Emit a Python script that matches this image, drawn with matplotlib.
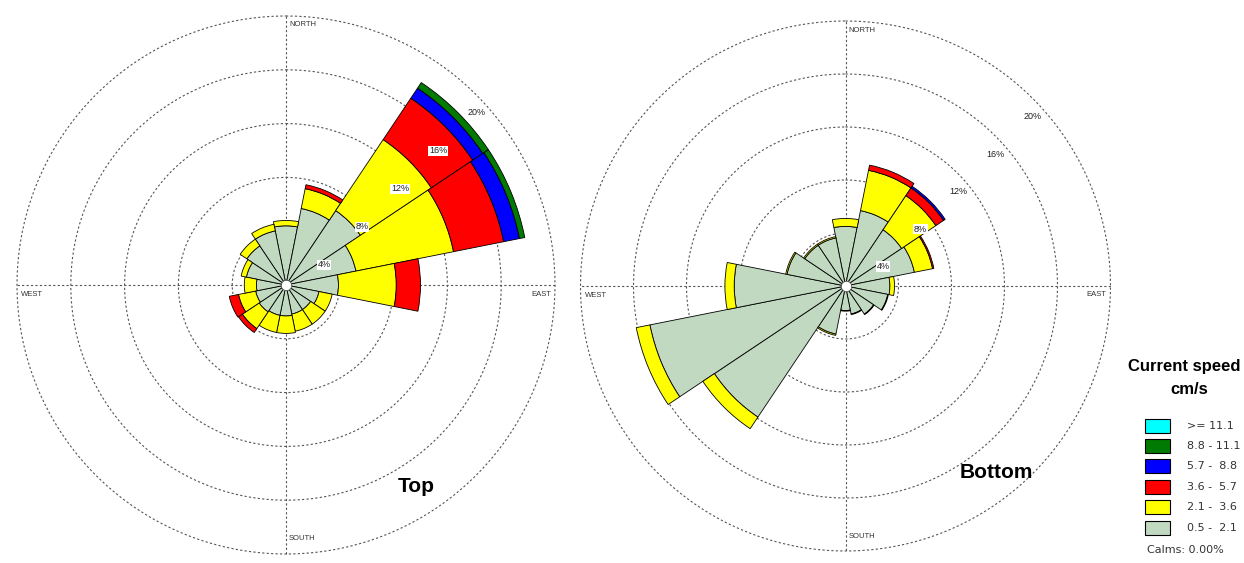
import numpy as np
import matplotlib
matplotlib.use('Agg')
import matplotlib.pyplot as plt
from matplotlib.patches import Rectangle

plt.rcParams['font.family'] = ['Liberation Sans', 'DejaVu Sans']

# 16 compass sectors, N first, clockwise
directions = ['N', 'NNE', 'NE', 'ENE', 'E', 'ESE', 'SE', 'SSE',
              'S', 'SSW', 'SW', 'WSW', 'W', 'WNW', 'NW', 'NNW']

speed_classes = ['0.5 -  2.1', '2.1 -  3.6', '3.6 -  5.7', '5.7 -  8.8', '8.8 - 11.1', '>= 11.1']
class_colors = ['#c0d9c0', '#ffff00', '#ff0000', '#0000ff', '#007a00', '#00ffff']

# percent of records per sector and speed class - top layer
top_05_21 = [4.4, 5.8, 6.65, 5.3, 3.9, 2.5, 2.2, 2.2, 2.3, 2.3, 2.4, 2.3, 2.2, 3.0, 3.5, 4.1]
top_21_36 = [0.4, 1.5, 6.35, 7.4, 4.3, 1.0, 1.3, 1.3, 1.3, 1.3, 1.5, 1.3, 0.9, 0.4, 0.6, 0.5]
top_36_57 = [0.0, 0.3, 3.7, 3.8, 1.8, 0.0, 0.0, 0.0, 0.0, 0.0, 0.35, 0.7, 0.0, 0.0, 0.0, 0.0]
top_57_88 = [0.0, 0.0, 0.9, 1.2, 0.0, 0.0, 0.0, 0.0, 0.0, 0.0, 0.0, 0.0, 0.0, 0.0, 0.0, 0.0]
top_88_111 = [0.0, 0.0, 0.5, 0.4, 0.0, 0.0, 0.0, 0.0, 0.0, 0.0, 0.0, 0.0, 0.0, 0.0, 0.0, 0.0]
top_111 = [0.0] * 16

# bottom layer
bot_05_21 = [4.5, 5.8, 5.1, 5.3, 3.35, 3.25, 2.55, 2.15, 1.85, 3.7, 11.9, 15.05, 8.4, 4.5, 3.7, 3.7]
bot_21_36 = [0.6, 3.1, 3.1, 1.4, 0.35, 0.05, 0.05, 0.05, 0.05, 0.1, 1.05, 1.05, 0.7, 0.1, 0.1, 0.1]
bot_36_57 = [0.0, 0.4, 0.7, 0.1, 0.0, 0.0, 0.0, 0.0, 0.0, 0.0, 0.0, 0.0, 0.0, 0.0, 0.0, 0.0]
bot_57_88 = [0.0, 0.0, 0.15, 0.0, 0.0, 0.0, 0.0, 0.0, 0.0, 0.0, 0.0, 0.0, 0.0, 0.0, 0.0, 0.0]
bot_88_111 = [0.0] * 16
bot_111 = [0.0] * 16

rings = [4, 8, 12, 16, 20]
calms = 0.00


def draw_rose(ax, layers):
    ax.set_theta_zero_location('N')
    ax.set_theta_direction(-1)
    ax.set_ylim(0, rings[-1])
    ax.grid(False)
    ax.set_xticks([])
    ax.set_yticks([])
    ax.spines['polar'].set_visible(False)
    ax.patch.set_visible(False)

    t = np.linspace(0, 2 * np.pi, 400)
    for r in rings:
        ax.plot(t, np.full_like(t, r), ls=(0, (2, 2)), color='#555555', lw=0.8,
                zorder=1, clip_on=False)
    for a in np.arange(4) * np.pi / 2:
        ax.plot([a, a], [0, rings[-1]], ls=(0, (2, 2)), color='#555555', lw=0.8,
                zorder=1, clip_on=False)

    theta = np.deg2rad(np.arange(len(directions)) * 22.5)
    width = 2 * np.pi / len(directions)
    base = np.zeros(len(directions))
    for vals, col in zip(layers, class_colors):
        vals = np.array(vals)
        m = vals > 0
        if m.any():
            ax.bar(theta[m], vals[m], width=width, bottom=base[m], color=col,
                   edgecolor='black', lw=0.6, zorder=2)
        base = base + vals

    ax.plot(0, 0, 'o', ms=7.5, mfc='white', mec='#444444', mew=0.5, zorder=3)

    for r in rings:
        ax.annotate(f'{r}%', xy=(np.pi / 4, r), xytext=(0, -18), textcoords='offset pixels',
                    ha='center', va='center', fontsize=6.5, color='#222222', zorder=4,
                    bbox=dict(fc='white', ec='none', pad=0.5))

    R = rings[-1]
    ax.annotate('NORTH', xy=(0, R), xytext=(3, -9), textcoords='offset pixels',
                ha='left', va='center', fontsize=5.5, color='#333333')
    ax.annotate('SOUTH', xy=(np.pi, R), xytext=(3, 15), textcoords='offset pixels',
                ha='left', va='center', fontsize=5.5, color='#333333')
    ax.annotate('WEST', xy=(1.5 * np.pi, R), xytext=(4, -9), textcoords='offset pixels',
                ha='left', va='center', fontsize=5.5, color='#333333')
    ax.annotate('EAST', xy=(0.5 * np.pi, R), xytext=(-4, -9), textcoords='offset pixels',
                ha='right', va='center', fontsize=5.5, color='#333333')


W, H = 1244, 563
fig = plt.figure(figsize=(W / 100, H / 100), dpi=100)

ax1 = fig.add_axes([17 / W, 9 / H, 538 / W, 538 / H], projection='polar')
draw_rose(ax1, [top_05_21, top_21_36, top_36_57, top_57_88, top_88_111, top_111])

ax2 = fig.add_axes([580.5 / W, 12 / H, 530 / W, 530 / H], projection='polar')
draw_rose(ax2, [bot_05_21, bot_21_36, bot_36_57, bot_57_88, bot_88_111, bot_111])

fig.text(416 / W, 1 - 487 / H, 'Top', ha='center', va='center', fontsize=15, weight='bold')
fig.text(996 / W, 1 - 472 / H, 'Bottom', ha='center', va='center', fontsize=15, weight='bold')

# legend, top class first
fig.text(1184 / W, 1 - 367 / H, 'Current speed', ha='center', va='center', fontsize=12, weight='bold')
fig.text(1189 / W, 1 - 389 / H, 'cm/s', ha='center', va='center', fontsize=12, weight='bold')
rows_y = [426, 446, 466, 487, 507, 528]
for yy, lab, col in zip(rows_y, speed_classes[::-1], class_colors[::-1]):
    fig.add_artist(Rectangle((1145 / W, 1 - (yy + 7) / H), 25 / W, 14 / H,
                             transform=fig.transFigure, fc=col, ec='black', lw=0.8))
    fig.text(1187 / W, 1 - yy / H, lab, ha='left', va='center', fontsize=8,
             color='#333333', family='DejaVu Sans')
fig.text(1147 / W, 1 - 550 / H, f'Calms: {calms:.2f}%', ha='left', va='center', fontsize=8,
         color='#333333', family='DejaVu Sans')

fig.savefig('out.png', dpi=100, facecolor='white')
